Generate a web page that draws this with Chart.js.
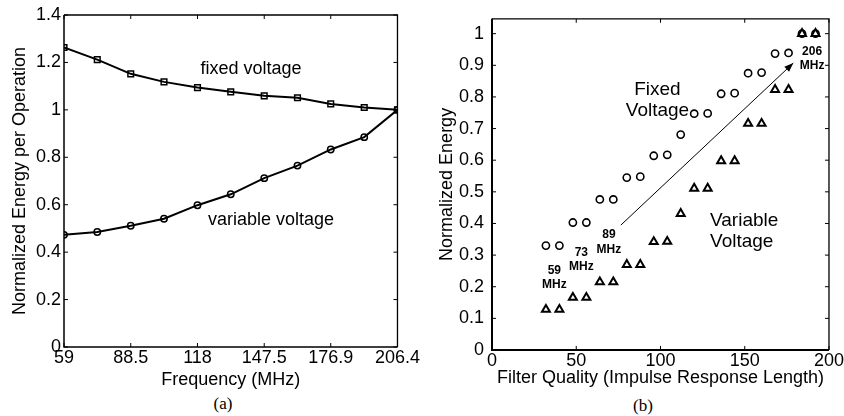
<!DOCTYPE html>
<html>
<head>
<meta charset="utf-8">
<title>Normalized energy</title>
<script src="https://cdn.jsdelivr.net/npm/chart.js@4.4.1/dist/chart.umd.min.js"></script>
<style>
  body { margin: 0; background: #fff; width: 844px; height: 416px; overflow: hidden; position: relative; }
  .panel { position: absolute; top: 0; }
  .cap { position: absolute; font-family: "Liberation Serif", "DejaVu Serif", serif; font-size: 17px; color: #000; transform: translateX(-50%); }
</style>
</head>
<body>
<div class="panel" style="left:0"><canvas id="chartA" width="420" height="391"></canvas></div>
<div class="panel" style="left:420px"><canvas id="chartB" width="424" height="389"></canvas></div>
<div class="cap" style="left:223px; top:394px">(a)</div>
<div class="cap" style="left:643px; top:396px">(b)</div>
<script>
// ---- panel (a) data ----
const freqs = [59, 73.7, 88.5, 103.2, 118, 132.7, 147.5, 162.2, 176.9, 191.7, 206.4];
const fixedA = [1.263, 1.212, 1.152, 1.118, 1.094, 1.076, 1.059, 1.051, 1.025, 1.010, 1.0];
const variableA = [0.473, 0.485, 0.511, 0.541, 0.598, 0.644, 0.712, 0.765, 0.833, 0.885, 1.0];
const freqTicks = [59, 88.5, 118, 147.5, 176.9, 206.4];
const energyTicksA = [0, 0.2, 0.4, 0.6, 0.8, 1, 1.2, 1.4];
const labelsA = [
  { text: ['fixed voltage'], x: 141.7, y: 1.173 },
  { text: ['variable voltage'], x: 150.5, y: 0.536 }
];

// ---- panel (b) data ----
const quality = [32, 40, 48, 56, 64, 72, 80, 88, 96, 104, 112, 120, 128, 136, 144, 152, 160, 168, 176, 184, 192];
const fixedB = [0.33, 0.33, 0.403, 0.403, 0.476, 0.476, 0.545, 0.548, 0.614, 0.617, 0.681, 0.747, 0.748,
                0.81, 0.812, 0.875, 0.877, 0.937, 0.939, 1.0, 1.0];
const variableB = [0.128, 0.128, 0.166, 0.166, 0.215, 0.215, 0.27, 0.27, 0.342, 0.343, 0.431, 0.511, 0.511,
                   0.598, 0.598, 0.716, 0.716, 0.823, 0.823, 1.0, 1.0];
const qualityTicks = [0, 50, 100, 150, 200];
const energyTicksB = [0, 0.1, 0.2, 0.3, 0.4, 0.5, 0.6, 0.7, 0.8, 0.9, 1];
const labelsB = [
  { text: ['Fixed', 'Voltage'], x: 98.2, y: 0.823, size: 19, gap: 21 },
  { text: ['Variable', 'Voltage'], x: 129.4, y: 0.408, size: 19, align: 'left', gap: 21 },
  { text: ['59', 'MHz'], x: 37, y: 0.252, size: 12, bold: true, gap: 14 },
  { text: ['73', 'MHz'], x: 53, y: 0.308, size: 12, bold: true, gap: 14 },
  { text: ['89', 'MHz'], x: 69.4, y: 0.364, size: 12, bold: true, gap: 15 },
  { text: ['206', 'MHz'], x: 190, y: 0.944, size: 12, bold: true, gap: 14 }
];
const arrowB = { from: [76.5, 0.395], to: [178.8, 0.907] };

const FONT = '"Liberation Sans", Arial, Helvetica, sans-serif';
Chart.defaults.font.family = FONT;
Chart.defaults.color = '#000';

function pairs(xs, ys) { return xs.map((x, i) => ({ x: x, y: ys[i] })); }

// box around the plot area with small inward ticks (MATLAB look)
function boxPlugin(lw) {
  return {
    id: 'box',
    afterDatasetsDraw(chart) {
      const { ctx, chartArea: a, scales } = chart;
      ctx.save();
      ctx.strokeStyle = '#000';
      ctx.lineWidth = 1;
      const t = 4;
      scales.x.ticks.forEach(tk => {
        const px = scales.x.getPixelForValue(tk.value);
        ctx.beginPath();
        ctx.moveTo(px, a.bottom); ctx.lineTo(px, a.bottom - t);
        ctx.moveTo(px, a.top); ctx.lineTo(px, a.top + t);
        ctx.stroke();
      });
      scales.y.ticks.forEach(tk => {
        const py = scales.y.getPixelForValue(tk.value);
        ctx.beginPath();
        ctx.moveTo(a.left, py); ctx.lineTo(a.left + t, py);
        ctx.moveTo(a.right, py); ctx.lineTo(a.right - t, py);
        ctx.stroke();
      });
      ctx.lineWidth = 1.3;
      ctx.beginPath();
      ctx.moveTo(a.left, a.top); ctx.lineTo(a.right, a.top); ctx.lineTo(a.right, a.bottom);
      ctx.stroke();
      ctx.lineWidth = lw;
      ctx.beginPath();
      ctx.moveTo(a.left, a.top); ctx.lineTo(a.left, a.bottom); ctx.lineTo(a.right, a.bottom);
      ctx.stroke();
      ctx.restore();
    }
  };
}

function textPlugin(items, defSize) {
  return {
    id: 'notes',
    afterDatasetsDraw(chart) {
      const { ctx, scales } = chart;
      ctx.save();
      ctx.fillStyle = '#000';
      ctx.textBaseline = 'middle';
      items.forEach(it => {
        const size = it.size || defSize;
        ctx.font = (it.bold ? 'bold ' : '') + size + 'px ' + FONT;
        ctx.textAlign = it.align || 'center';
        const px = scales.x.getPixelForValue(it.x);
        const py = scales.y.getPixelForValue(it.y);
        const gap = it.gap || size * 1.17;
        it.text.forEach((line, i) => ctx.fillText(line, px, py + i * gap));
      });
      ctx.restore();
    }
  };
}

const arrowPlugin = {
  id: 'arrow',
  afterDatasetsDraw(chart) {
    const { ctx, scales } = chart;
    const x0 = scales.x.getPixelForValue(arrowB.from[0]), y0 = scales.y.getPixelForValue(arrowB.from[1]);
    const x1 = scales.x.getPixelForValue(arrowB.to[0]), y1 = scales.y.getPixelForValue(arrowB.to[1]);
    const ang = Math.atan2(y1 - y0, x1 - x0);
    ctx.save();
    ctx.strokeStyle = '#000'; ctx.fillStyle = '#000'; ctx.lineWidth = 1;
    ctx.beginPath(); ctx.moveTo(x0, y0); ctx.lineTo(x1, y1); ctx.stroke();
    const L = 9, W = 3.5;
    ctx.beginPath();
    ctx.moveTo(x1, y1);
    ctx.lineTo(x1 - L * Math.cos(ang) + W * Math.sin(ang), y1 - L * Math.sin(ang) - W * Math.cos(ang));
    ctx.lineTo(x1 - L * Math.cos(ang) - W * Math.sin(ang), y1 - L * Math.sin(ang) + W * Math.cos(ang));
    ctx.closePath(); ctx.fill();
    ctx.restore();
  }
};

function axes(o) {
  return {
    x: {
      type: 'linear', min: o.xmin, max: o.xmax,
      afterBuildTicks: s => { s.ticks = o.xticks.map(v => ({ value: v })); },
      afterFit: s => { s.height = o.xh; },
      grid: { display: false, drawTicks: false },
      border: { display: false },
      ticks: { font: { size: 18 }, padding: 0, maxRotation: 0, autoSkip: false, callback: v => String(v) },
      title: { display: true, text: o.xtitle, font: { size: 18 }, padding: { top: 0, bottom: 0 } }
    },
    y: {
      type: 'linear', min: o.ymin, max: o.ymax,
      afterBuildTicks: s => { s.ticks = o.yticks.map(v => ({ value: v })); },
      afterFit: s => { s.width = o.yw; },
      grid: { display: false, drawTicks: false },
      border: { display: false },
      ticks: { font: { size: 18 }, padding: o.ypad, autoSkip: false, callback: v => String(v) },
      title: { display: true, text: o.ytitle, font: { size: 18 }, padding: { top: o.ytpad, bottom: 0 } }
    }
  };
}

new Chart(document.getElementById('chartA'), {
  type: 'line',
  data: {
    datasets: [
      { label: 'fixed voltage', data: pairs(freqs, fixedA), borderColor: '#000', borderWidth: 2,
        pointStyle: 'rect', pointRadius: 4, pointBorderWidth: 1.5, pointBorderColor: '#000',
        pointBackgroundColor: 'rgba(0,0,0,0)', tension: 0 },
      { label: 'variable voltage', data: pairs(freqs, variableA), borderColor: '#000', borderWidth: 2,
        pointStyle: 'circle', pointRadius: 3.2, pointBorderWidth: 1.5, pointBorderColor: '#000',
        pointBackgroundColor: 'rgba(0,0,0,0)', tension: 0 }
    ]
  },
  options: {
    responsive: false, animation: false,
    layout: { padding: { left: 0, right: 21, top: 15, bottom: 0 } },
    plugins: { legend: { display: false }, tooltip: { enabled: false } },
    scales: axes({ xmin: 59, xmax: 206.4, xticks: freqTicks, xh: 44, xtitle: 'Frequency (MHz)',
                   ymin: 0, ymax: 1.4, yticks: energyTicksA, yw: 64, ypad: 3, ytpad: 9,
                   ytitle: 'Normalized Energy per Operation' })
  },
  plugins: [boxPlugin(1.5), textPlugin(labelsA, 18)]
});

new Chart(document.getElementById('chartB'), {
  type: 'scatter',
  data: {
    datasets: [
      { label: 'Fixed Voltage', data: pairs(quality, fixedB), showLine: false,
        pointStyle: 'circle', pointRadius: 3.6, pointBorderWidth: 1.6, pointBorderColor: '#000',
        pointBackgroundColor: 'rgba(0,0,0,0)' },
      { label: 'Variable Voltage', data: pairs(quality, variableB), showLine: false,
        pointStyle: 'triangle', pointRadius: 4.6, pointBorderWidth: 2, pointBorderColor: '#000',
        pointBackgroundColor: 'rgba(0,0,0,0)' }
    ]
  },
  options: {
    responsive: false, animation: false,
    layout: { padding: { left: 0, right: 12, top: 14, bottom: 0 } },
    plugins: { legend: { display: false }, tooltip: { enabled: false } },
    scales: axes({ xmin: 0, xmax: 200, xticks: qualityTicks, xh: 39,
                   xtitle: 'Filter Quality (Impulse Response Length)',
                   ymin: 0, ymax: 1.047, yticks: energyTicksB, yw: 72, ypad: 8, ytpad: 16,
                   ytitle: 'Normalized Energy' })
  },
  plugins: [boxPlugin(2), arrowPlugin, textPlugin(labelsB, 18)]
});
</script>
</body>
</html>
